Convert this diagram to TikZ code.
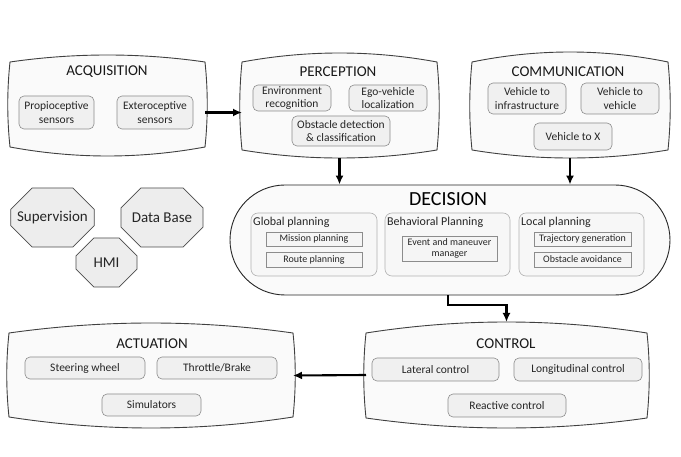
\documentclass[tikz,border=0pt]{standalone}
\usepackage{fontspec}
\setmainfont{Carlito}
\usetikzlibrary{shapes.misc,arrows.meta,calc}
\newcommand\barrelshape[6]{% x1 x2 yt ytm yb ybm
  \draw[outer] (#1,#3)
    .. controls ({#1+(#2-#1)/3},{#3+4/3*(#4-#3)}) and ({#2-(#2-#1)/3},{#3+4/3*(#4-#3)}) .. (#2,#3)
    .. controls ({#2+3},{#3+(#5-#3)/3}) and ({#2+3},{#5-(#5-#3)/3}) .. (#2,#5)
    .. controls ({#2-(#2-#1)/3},{#5+4/3*(#6-#5)}) and ({#1+(#2-#1)/3},{#5+4/3*(#6-#5)}) .. (#1,#5)
    .. controls ({#1-3},{#5-(#5-#3)/3}) and ({#1-3},{#3+(#5-#3)/3}) .. cycle;}
\tikzset{
  outer/.style={draw=black!75, line width=0.9pt, fill=black!2},
  holder/.style={inner sep=0pt, outer sep=0pt},
  innerbox/.style={draw=black!45, line width=0.6pt, fill=black!6, rounded corners=5pt, align=center,
    font=\fontsize{11.5}{13.5}\selectfont, inner sep=0pt, text=black!85},
  subbox/.style={draw=black!45, line width=0.6pt, fill=black!4, align=center,
    font=\fontsize{10}{11.5}\selectfont, inner sep=0pt, text=black!85},
  grp/.style={draw=black!30, line width=0.6pt, fill=black!3, rounded corners=7pt, inner sep=0pt},
  grplabel/.style={anchor=west, font=\fontsize{12}{14}\selectfont, inner sep=0pt, text=black!85},
  ttl/.style={font=\fontsize{15}{17}\selectfont, inner sep=0pt, text=black!90},
  octo/.style={chamfered rectangle, chamfered rectangle sep=15pt, draw=black!70, line width=0.7pt,
    fill=black!7, font=\fontsize{15}{17}\selectfont, inner sep=0pt, text=black!85},
  arr/.style={-{Latex[length=9pt,width=8pt]}, line width=2.1pt},
}
\begin{document}
\begin{tikzpicture}[x=1pt,y=-1pt]
\useasboundingbox[fill=white] (0,0) rectangle (681,457);

% ACQUISITION
\barrelshape{10}{205}{62}{55}{147}{156}
\node[holder, minimum width=195pt, minimum height=101pt] (acq) at (107.5,105.5) {};
\node[ttl] (acqt) at (107,72) {ACQUISITION};
\node[innerbox, minimum width=75pt, minimum height=33pt] (prop) at (56.5,112.5) {Propioceptive\\sensors};
\node[innerbox, minimum width=76pt, minimum height=33pt] (extero) at (155,112.5) {Exteroceptive\\sensors};

% PERCEPTION
\barrelshape{242}{437}{62}{53}{150}{158}
\node[holder, minimum width=195pt, minimum height=105pt] (perc) at (339.5,105.5) {};
\node[ttl] (perct) at (338,72) {PERCEPTION};
\node[innerbox, minimum width=78pt, minimum height=26pt] (env) at (292,98) {Environment\\recognition};
\node[innerbox, minimum width=78pt, minimum height=26pt] (ego) at (388,98) {Ego-vehicle\\localization};
\node[innerbox, minimum width=98pt, minimum height=30pt] (obs) at (341,131) {Obstacle detection\\\& classification};

% COMMUNICATION
\barrelshape{472}{668}{62}{52}{150}{158}
\node[holder, minimum width=196pt, minimum height=106pt] (comm) at (570,105) {};
\node[ttl] (commt) at (568,72) {COMMUNICATION};
\node[innerbox, minimum width=78pt, minimum height=31pt] (vti) at (527,98.5) {Vehicle to\\infrastructure};
\node[innerbox, minimum width=78pt, minimum height=31pt] (vtv) at (620,98.5) {Vehicle to\\vehicle};
\node[innerbox, minimum width=78pt, minimum height=27pt] (vtx) at (573,136.5) {Vehicle to X};

% Octagons
\node[octo, minimum width=81pt, minimum height=59pt] (sup) at (52.5,217.5) {Supervision};
\node[octo, minimum width=82pt, minimum height=59pt] (db) at (162,217.5) {Data Base};
\node[octo, minimum width=61pt, minimum height=49pt] (hmi) at (106.5,262.5) {HMI};

% DECISION
\node[draw=black!85, line width=0.9pt, fill=black!2, rounded corners=55pt, minimum width=440pt,
  minimum height=110pt, inner sep=0pt] (dec) at (450,240) {};
\node[font=\fontsize{20}{22}\selectfont, inner sep=0pt] (dect) at (448,199) {DECISION};
\node[grp, minimum width=126pt, minimum height=63pt] (glob) at (314,244.5) {};
\node[grplabel] (globl) at (253,222) {Global planning};
\node[subbox, minimum width=96pt, minimum height=14pt] (miss) at (314,239) {Mission planning};
\node[subbox, minimum width=96pt, minimum height=15pt] (route) at (314,259.5) {Route planning};
\node[grp, minimum width=125pt, minimum height=63pt] (beh) at (447.5,244.5) {};
\node[grplabel] (behl) at (387,222) {Behavioral Planning};
\node[subbox, minimum width=95pt, minimum height=25pt] (event) at (449.5,248.5) {Event and maneuver\\manager};
\node[grp, minimum width=125pt, minimum height=63pt] (loc) at (581.5,244.5) {};
\node[grplabel] (locl) at (521,222) {Local planning};
\node[subbox, minimum width=97pt, minimum height=14pt] (traj) at (582.5,239) {Trajectory generation};
\node[subbox, minimum width=97pt, minimum height=15pt] (oav) at (582.5,259.5) {Obstacle avoidance};

% CONTROL
\barrelshape{366}{647}{333}{322}{418}{428}
\node[holder, minimum width=281pt, minimum height=106pt] (ctrl) at (506.5,375) {};
\node[ttl] (ctrlt) at (506,344) {CONTROL};
\node[innerbox, minimum width=127pt, minimum height=23pt] (lat) at (435.5,369.5) {Lateral control};
\node[innerbox, minimum width=128pt, minimum height=23pt] (lon) at (578,369.5) {Longitudinal control};
\node[innerbox, minimum width=118pt, minimum height=23pt] (react) at (507,405.5) {Reactive control};

% ACTUATION
\barrelshape{9}{293}{333}{323}{417}{428}
\node[holder, minimum width=284pt, minimum height=105pt] (act) at (151,375.5) {};
\node[ttl] (actt) at (152,344) {ACTUATION};
\node[innerbox, minimum width=120pt, minimum height=22pt] (steer) at (85,368) {Steering wheel};
\node[innerbox, minimum width=120pt, minimum height=22pt] (thr) at (217,368) {Throttle/Brake};
\node[innerbox, minimum width=99pt, minimum height=22pt] (sim) at (151.5,405) {Simulators};

% Connectors
\draw[arr] (acq.east |- extero) -- (perc.west |- extero);
\draw[arr] (perc.south) -- (perc.south |- dec.north);
\draw[arr] (comm.south) -- (comm.south |- dec.north);
\draw[arr] ([xshift=-2pt]dec.south) -- ++(0,10) -| (ctrl.north);
\draw[arr] (ctrl.west) -- (act.east);
\end{tikzpicture}
\end{document}
